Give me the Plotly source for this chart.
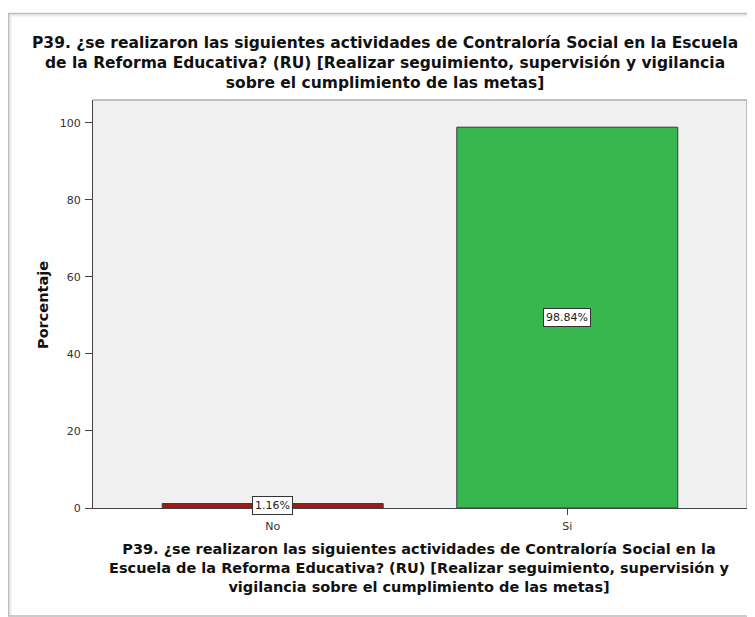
import plotly.graph_objects as go

categories = ["No", "Si"]
values = [1.16, 98.84]
bar_colors = ["#9e1a1a", "#36b84e"]
y_ticks = [0, 20, 40, 60, 80, 100]

title_lines = [
    "P39. ¿se realizaron las siguientes actividades de Contraloría Social en la Escuela",
    "de la Reforma Educativa? (RU) [Realizar seguimiento, supervisión y vigilancia",
    "sobre el cumplimiento de las metas]",
]
xaxis_title_lines = [
    "P39. ¿se realizaron las siguientes actividades de Contraloría Social en la",
    "Escuela de la Reforma Educativa? (RU) [Realizar seguimiento, supervisión y",
    "vigilancia sobre el cumplimiento de las metas]",
]
yaxis_title = "Porcentaje"

# page body has an 8px margin; figure coordinates below are page coords minus 8
W, H = 747, 609
L, R, T, B = 85, 739, 92, 500
pw, ph = R - L, B - T
FONT = "DejaVu Sans, Liberation Sans, Arial"


def px(x):
    return (x - L) / pw


def py(y):
    return (B - y) / ph


fig = go.Figure()
fig.add_trace(go.Bar(
    x=categories, y=values, width=0.75,
    marker=dict(color=bar_colors, line=dict(color="#3a3a3a", width=1)),
    hoverinfo="skip",
))

annotations = []
for c, v in zip(categories, values):
    annotations.append(dict(
        x=c, y=v / 2, xref="x", yref="y", text=f"{v:.2f}%", showarrow=False,
        font=dict(family=FONT, size=11, color="#222"),
        bgcolor="white", bordercolor="#333", borderwidth=1, borderpad=2,
    ))

annotations.append(dict(
    x=px(377), y=py(55), xref="paper", yref="paper",
    text="<br>".join("<b>" + s + "</b>" for s in title_lines),
    showarrow=False, font=dict(family=FONT, size=15.5, color="#111"),
    xanchor="center", yanchor="middle", align="center",
))
annotations.append(dict(
    x=px(411), y=py(560), xref="paper", yref="paper",
    text="<br>".join("<b>" + s + "</b>" for s in xaxis_title_lines),
    showarrow=False, font=dict(family=FONT, size=14.5, color="#111"),
    xanchor="center", yanchor="middle", align="center",
))
annotations.append(dict(
    x=px(35), y=py(297), xref="paper", yref="paper", text="<b>" + yaxis_title + "</b>",
    showarrow=False, textangle=-90,
    font=dict(family=FONT, size=14.5, color="#111"),
    xanchor="center", yanchor="middle",
))

shapes = [
    # outer frame with soft shadow
    dict(type="rect", xref="paper", yref="paper", x0=px(2), x1=px(770), y0=py(610), y1=py(7),
         line=dict(color="#ececec", width=3), fillcolor="rgba(0,0,0,0)", layer="below"),
    dict(type="rect", xref="paper", yref="paper", x0=px(0.5), x1=px(770), y0=py(608), y1=py(5.5),
         line=dict(color="#bdbdbd", width=1.5), fillcolor="rgba(0,0,0,0)", layer="below"),
    # plot border top/right
    dict(type="line", xref="paper", yref="paper", x0=0, x1=1, y0=1, y1=1,
         line=dict(color="#8a8a8a", width=1)),
    dict(type="line", xref="paper", yref="paper", x0=1, x1=1, y0=0, y1=1,
         line=dict(color="#8a8a8a", width=1)),
]

fig.update_layout(
    width=W, height=H,
    margin=dict(l=L, r=W - R, t=T, b=H - B, autoexpand=False),
    paper_bgcolor="white", plot_bgcolor="#f0f0f0",
    showlegend=False,
    annotations=annotations, shapes=shapes,
    font=dict(family=FONT, size=11, color="#333"),
)
fig.update_xaxes(
    range=[-0.61, 1.61], showline=True, linecolor="#444", linewidth=1,
    ticks="outside", ticklen=6, tickcolor="#444", showgrid=False,
    tickfont=dict(family=FONT, size=11, color="#333"), ticklabelstandoff=2,
    fixedrange=True,
)
fig.update_yaxes(
    range=[0, 105.9], tickvals=y_ticks, showline=True, linecolor="#444", linewidth=1,
    ticks="outside", ticklen=7, tickcolor="#444", showgrid=False, zeroline=False,
    tickfont=dict(family=FONT, size=11, color="#333"), ticklabelstandoff=2,
    fixedrange=True,
)

fig.write_html("out.html")
